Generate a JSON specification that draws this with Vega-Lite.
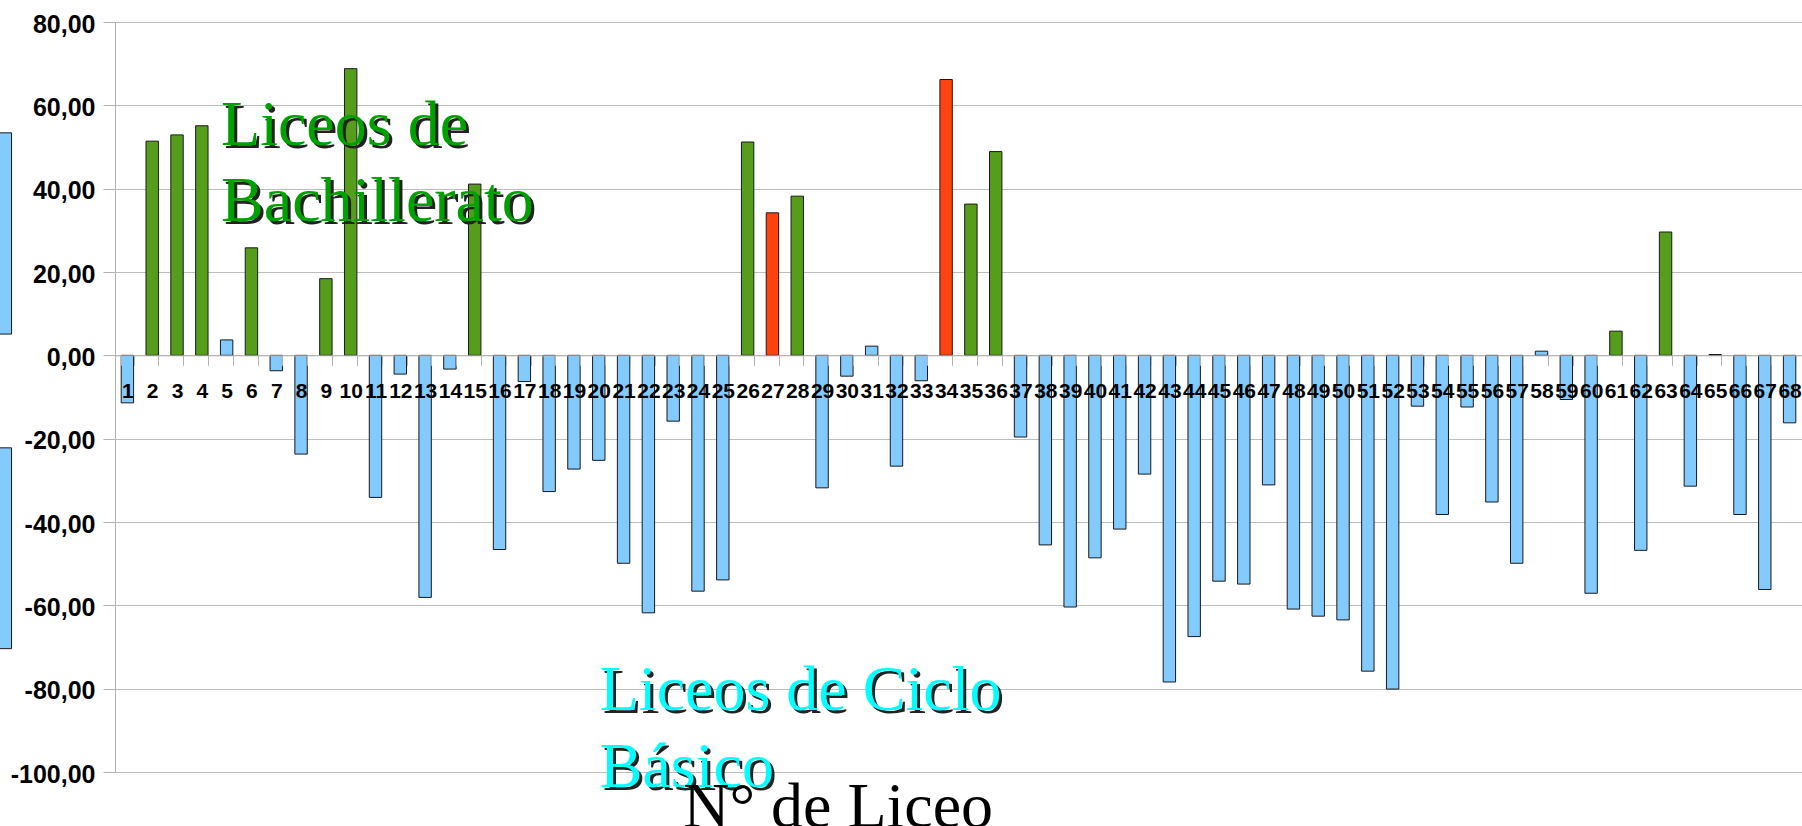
{
  "$schema": "https://vega.github.io/schema/vega-lite/v6.json",
  "width": 1687,
  "height": 750,
  "autosize": {"type": "none"},
  "padding": {"left": 115, "top": 22, "right": 0, "bottom": 54},
  "background": "white",
  "config": {"view": {"stroke": null}, "font": "Liberation Sans"},
  "layer": [
    {
      "layer": [
        {
          "data": {"values": [
            {"liceo": 1, "valor": -11.4, "tipo": "Ciclo Básico"},
            {"liceo": 2, "valor": 51.4, "tipo": "Bachillerato"},
            {"liceo": 3, "valor": 52.9, "tipo": "Bachillerato"},
            {"liceo": 4, "valor": 55.1, "tipo": "Bachillerato"},
            {"liceo": 5, "valor": 3.7, "tipo": "Ciclo Básico"},
            {"liceo": 6, "valor": 25.8, "tipo": "Bachillerato"},
            {"liceo": 7, "valor": -3.7, "tipo": "Ciclo Básico"},
            {"liceo": 8, "valor": -23.7, "tipo": "Ciclo Básico"},
            {"liceo": 9, "valor": 18.4, "tipo": "Bachillerato"},
            {"liceo": 10, "valor": 68.8, "tipo": "Bachillerato"},
            {"liceo": 11, "valor": -34.1, "tipo": "Ciclo Básico"},
            {"liceo": 12, "valor": -4.5, "tipo": "Ciclo Básico"},
            {"liceo": 13, "valor": -58.1, "tipo": "Ciclo Básico"},
            {"liceo": 14, "valor": -3.3, "tipo": "Ciclo Básico"},
            {"liceo": 15, "valor": 41.1, "tipo": "Bachillerato"},
            {"liceo": 16, "valor": -46.6, "tipo": "Ciclo Básico"},
            {"liceo": 17, "valor": -6.3, "tipo": "Ciclo Básico"},
            {"liceo": 18, "valor": -32.7, "tipo": "Ciclo Básico"},
            {"liceo": 19, "valor": -27.3, "tipo": "Ciclo Básico"},
            {"liceo": 20, "valor": -25.2, "tipo": "Ciclo Básico"},
            {"liceo": 21, "valor": -49.9, "tipo": "Ciclo Básico"},
            {"liceo": 22, "valor": -61.8, "tipo": "Ciclo Básico"},
            {"liceo": 23, "valor": -15.8, "tipo": "Ciclo Básico"},
            {"liceo": 24, "valor": -56.6, "tipo": "Ciclo Básico"},
            {"liceo": 25, "valor": -53.9, "tipo": "Ciclo Básico"},
            {"liceo": 26, "valor": 51.2, "tipo": "Bachillerato"},
            {"liceo": 27, "valor": 34.2, "tipo": "Otro"},
            {"liceo": 28, "valor": 38.2, "tipo": "Bachillerato"},
            {"liceo": 29, "valor": -31.8, "tipo": "Ciclo Básico"},
            {"liceo": 30, "valor": -5.0, "tipo": "Ciclo Básico"},
            {"liceo": 31, "valor": 2.2, "tipo": "Ciclo Básico"},
            {"liceo": 32, "valor": -26.6, "tipo": "Ciclo Básico"},
            {"liceo": 33, "valor": -6.1, "tipo": "Ciclo Básico"},
            {"liceo": 34, "valor": 66.2, "tipo": "Otro"},
            {"liceo": 35, "valor": 36.3, "tipo": "Bachillerato"},
            {"liceo": 36, "valor": 48.9, "tipo": "Bachillerato"},
            {"liceo": 37, "valor": -19.6, "tipo": "Ciclo Básico"},
            {"liceo": 38, "valor": -45.5, "tipo": "Ciclo Básico"},
            {"liceo": 39, "valor": -60.4, "tipo": "Ciclo Básico"},
            {"liceo": 40, "valor": -48.6, "tipo": "Ciclo Básico"},
            {"liceo": 41, "valor": -41.7, "tipo": "Ciclo Básico"},
            {"liceo": 42, "valor": -28.5, "tipo": "Ciclo Básico"},
            {"liceo": 43, "valor": -78.4, "tipo": "Ciclo Básico"},
            {"liceo": 44, "valor": -67.5, "tipo": "Ciclo Básico"},
            {"liceo": 45, "valor": -54.2, "tipo": "Ciclo Básico"},
            {"liceo": 46, "valor": -54.9, "tipo": "Ciclo Básico"},
            {"liceo": 47, "valor": -31.1, "tipo": "Ciclo Básico"},
            {"liceo": 48, "valor": -60.9, "tipo": "Ciclo Básico"},
            {"liceo": 49, "valor": -62.6, "tipo": "Ciclo Básico"},
            {"liceo": 50, "valor": -63.5, "tipo": "Ciclo Básico"},
            {"liceo": 51, "valor": -75.8, "tipo": "Ciclo Básico"},
            {"liceo": 52, "valor": -80.1, "tipo": "Ciclo Básico"},
            {"liceo": 53, "valor": -12.2, "tipo": "Ciclo Básico"},
            {"liceo": 54, "valor": -38.2, "tipo": "Ciclo Básico"},
            {"liceo": 55, "valor": -12.4, "tipo": "Ciclo Básico"},
            {"liceo": 56, "valor": -35.2, "tipo": "Ciclo Básico"},
            {"liceo": 57, "valor": -49.9, "tipo": "Ciclo Básico"},
            {"liceo": 58, "valor": 1.0, "tipo": "Ciclo Básico"},
            {"liceo": 59, "valor": -10.6, "tipo": "Ciclo Básico"},
            {"liceo": 60, "valor": -57.1, "tipo": "Ciclo Básico"},
            {"liceo": 61, "valor": 5.8, "tipo": "Bachillerato"},
            {"liceo": 62, "valor": -46.8, "tipo": "Ciclo Básico"},
            {"liceo": 63, "valor": 29.6, "tipo": "Bachillerato"},
            {"liceo": 64, "valor": -31.4, "tipo": "Ciclo Básico"},
            {"liceo": 65, "valor": 0.2, "tipo": "Ciclo Básico"},
            {"liceo": 66, "valor": -38.2, "tipo": "Ciclo Básico"},
            {"liceo": 67, "valor": -56.2, "tipo": "Ciclo Básico"},
            {"liceo": 68, "valor": -16.2, "tipo": "Ciclo Básico"}
          ]},
          "mark": {"type": "bar", "stroke": "#1a1a1a", "strokeWidth": 1},
          "encoding": {
            "x": {
              "field": "liceo", "type": "ordinal", "title": null,
              "scale": {"paddingInner": 0.5, "paddingOuter": 0.25},
              "axis": {
                "labelAngle": 0, "labelFontSize": 21, "labelFontWeight": "bold",
                "labelColor": "#000000", "labelFont": "Liberation Sans",
                "labelPadding": 15.5, "tickSize": 10, "tickColor": "#b3b3b3",
                "tickBand": "extent", "domainColor": "#b3b3b3",
                "offset": -416.7, "zindex": 1, "labelOverlap": false,
                "labelBound": false, "labelFlush": false, "grid": false
              }
            },
            "y": {
              "field": "valor", "type": "quantitative", "title": null,
              "scale": {"domain": [-100, 80], "nice": false, "zero": false},
              "axis": {
                "values": [-100, -80, -60, -40, -20, 0, 20, 40, 60, 80],
                "labelFontSize": 25, "labelFontWeight": "bold", "labelColor": "#000000",
                "labelFont": "Liberation Sans",
                "labelPadding": 8, "tickSize": 12, "tickColor": "#b3b3b3",
                "domainColor": "#b3b3b3", "gridColor": "#bdbdbd", "gridWidth": 1.2,
                "labelOffset": 2,
                "labelExpr": "(datum.value < 0 ? '-' : '') + replace(format(abs(datum.value), '.2f'), '.', ',')"
              }
            },
            "color": {
              "field": "tipo", "type": "nominal",
              "scale": {"domain": ["Bachillerato", "Ciclo Básico", "Otro"], "range": ["#579d1c", "#83caff", "#ff420e"]},
              "legend": null
            }
          }
        },
        {
          "data": {"values": [{"texto": "Liceos de\nBachillerato"}]},
          "mark": {"type": "text", "font": "Liberation Serif", "fontSize": 64, "align": "left", "baseline": "alphabetic", "lineHeight": 76, "lineBreak": "\n", "color": "#222222", "dx": -2.6, "dy": 3},
          "encoding": {"x": {"datum": 5, "type": "ordinal"}, "y": {"datum": 50.5, "type": "quantitative"}, "text": {"field": "texto"}}
        },
        {
          "data": {"values": [{"texto": "Liceos de\nBachillerato"}]},
          "mark": {"type": "text", "font": "Liberation Serif", "fontSize": 64, "align": "left", "baseline": "alphabetic", "lineHeight": 76, "lineBreak": "\n", "color": "#00a000", "dx": -5.6},
          "encoding": {"x": {"datum": 5, "type": "ordinal"}, "y": {"datum": 50.5, "type": "quantitative"}, "text": {"field": "texto"}}
        },
        {
          "data": {"values": [{"texto": "Liceos de Ciclo\nBásico"}]},
          "mark": {"type": "text", "font": "Liberation Serif", "fontSize": 64, "align": "left", "baseline": "alphabetic", "lineHeight": 77, "lineBreak": "\n", "color": "#222222", "dx": 4, "dy": 3},
          "encoding": {"x": {"datum": 20, "type": "ordinal"}, "y": {"datum": -85.2, "type": "quantitative"}, "text": {"field": "texto"}}
        },
        {
          "data": {"values": [{"texto": "Liceos de Ciclo\nBásico"}]},
          "mark": {"type": "text", "font": "Liberation Serif", "fontSize": 64, "align": "left", "baseline": "alphabetic", "lineHeight": 77, "lineBreak": "\n", "color": "#00ffff", "dx": 1},
          "encoding": {"x": {"datum": 20, "type": "ordinal"}, "y": {"datum": -85.2, "type": "quantitative"}, "text": {"field": "texto"}}
        },
        {
          "data": {"values": [{"texto": "N° de Liceo"}]},
          "mark": {"type": "text", "font": "Liberation Serif", "fontSize": 64, "align": "left", "baseline": "alphabetic", "color": "#000000", "dx": 10},
          "encoding": {"x": {"datum": 23, "type": "ordinal"}, "y": {"datum": -113.3, "type": "quantitative"}, "text": {"field": "texto"}}
        }
      ]
    },
    {
      "data": {"values": [{"desde": 53.4, "hasta": 5.1}, {"desde": -22.2, "hasta": -70.4}]},
      "mark": {"type": "rect", "fill": "#83caff", "stroke": "#1a1a1a", "strokeWidth": 1},
      "encoding": {
        "x": {"datum": -4.9, "type": "quantitative", "scale": {"domain": [0, 68], "nice": false, "zero": false}, "axis": null},
        "x2": {"datum": -4.17},
        "y": {"field": "desde", "type": "quantitative", "title": null},
        "y2": {"field": "hasta"}
      }
    }
  ],
  "resolve": {"scale": {"x": "independent"}}
}
